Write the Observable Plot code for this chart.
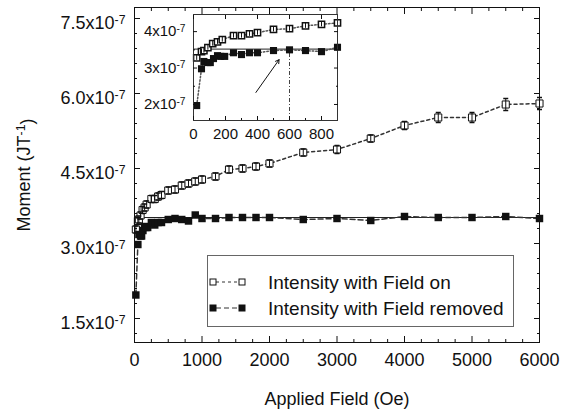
<!DOCTYPE html>
<html><head><meta charset="utf-8">
<script src="https://cdn.jsdelivr.net/npm/d3@7"></script>
<script src="https://cdn.jsdelivr.net/npm/@observablehq/plot@0.6"></script>
<style>
body{margin:0;background:#fff;}
#wrap{position:relative;width:571px;height:419px;font-family:"Liberation Sans",Arial,Helvetica,sans-serif;color:#111;}
#inset{position:absolute;left:140px;top:0px;}
#legend{position:absolute;left:207px;top:255px;}
</style></head><body><div id="wrap"><div id="main"></div><div id="inset"></div><div id="legend"></div></div>
<script>
// ---- data (moment in units of 1e-7 J/T, field in Oe) ----
const onField = [20, 50, 65, 90, 120, 150, 180, 250, 300, 350, 400, 500, 600, 700, 800, 900, 1000, 1200, 1400, 1600, 1800, 2000, 2500, 3000, 3500, 4000, 4500, 5000, 5500, 6000];
const onMoment = [3.28, 3.45, 3.48, 3.56, 3.67, 3.72, 3.78, 3.89, 3.89, 3.94, 3.97, 4.06, 4.08, 4.16, 4.20, 4.24, 4.28, 4.34, 4.48, 4.50, 4.54, 4.60, 4.82, 4.88, 5.10, 5.36, 5.52, 5.52, 5.78, 5.80];
const onError = [0.07, 0.07, 0.07, 0.07, 0.07, 0.07, 0.07, 0.07, 0.07, 0.07, 0.07, 0.07, 0.07, 0.07, 0.07, 0.07, 0.07, 0.07, 0.07, 0.07, 0.07, 0.07, 0.07, 0.08, 0.07, 0.08, 0.10, 0.10, 0.12, 0.12];
const removedField = [20, 50, 65, 90, 105, 125, 150, 170, 195, 250, 300, 350, 400, 500, 600, 700, 800, 900, 1000, 1200, 1400, 1600, 1800, 2000, 2500, 3000, 3500, 4000, 4500, 5000, 5500, 6000];
const removedMoment = [1.97, 2.98, 3.18, 3.15, 3.15, 3.26, 3.34, 3.32, 3.32, 3.42, 3.37, 3.42, 3.42, 3.48, 3.50, 3.48, 3.45, 3.57, 3.50, 3.50, 3.52, 3.52, 3.52, 3.52, 3.48, 3.50, 3.46, 3.54, 3.52, 3.52, 3.54, 3.50];
const referenceLevel = [3.52];
const xTicks = [0, 1000, 2000, 3000, 4000, 5000, 6000];
const yTicks = [1.5, 3.0, 4.5, 6.0, 7.5];
const xDomain = [0, 6000];
const yDomain = [1.02, 7.72];
const insetXTicks = [0, 200, 400, 600, 800];
const insetYTicks = [2, 3, 4];
const insetXDomain = [0, 900];
const insetYDomain = [1.56, 4.47];
const insetMarker = [600];
const arrowFrom = [390, 2.33];
const arrowTo = [535, 3.23];
const legendLabels = ["Intensity with Field on", "Intensity with Field removed"];

const FONT = '"Liberation Sans", Arial, Helvetica, sans-serif';
const onData = onField.map((f, i) => ({field: f, m: onMoment[i], e: onError[i]}));
const removedData = removedField.map((f, i) => ({field: f, m: removedMoment[i]}));
const cap = {draw(ctx, size) { const w = Math.sqrt(size / Math.PI); ctx.moveTo(-w, 0); ctx.lineTo(w, 0); }};
const sup = d => `x10^{-7}`;

function supify(svg) {
  d3.select(svg).selectAll("text").each(function() {
    const t = this.textContent;
    if (!t.includes("^{")) return;
    const parts = t.split(/\^\{([^}]*)\}/);
    const el = d3.select(this);
    el.text(null);
    parts.forEach((p, i) => {
      if (!p) return;
      if (i % 2 === 1) {
        el.append("tspan").attr("dy", "-0.45em").attr("font-size", "0.68em").text(p);
        if (i + 1 < parts.length && parts[i + 1]) el.append("tspan").attr("dy", "0.45em").text(parts[i + 1]);
      } else if (i === 0) {
        el.append("tspan").text(p);
      }
    });
  });
}

// minor tick positions (derived from the tick arrays)
const xMinor = d3.range(xDomain[0], xDomain[1] + 1, 250).filter(v => v % 1000 !== 0);
const yMinor = d3.range(12, 76, 3).map(v => v / 10).filter(v => Math.abs(v / 1.5 - Math.round(v / 1.5)) > 1e-6);
const insetXMinor = d3.range(100, 900, 200);
const insetYMinor = [2.5, 3.5];

const mainSvg = Plot.plot({
  width: 571, height: 419,
  marginLeft: 134, marginRight: 32, marginTop: 7, marginBottom: 77,
  x: {domain: xDomain}, y: {domain: yDomain},
  style: {fontSize: "18px", fontFamily: FONT, color: "#111", background: "transparent", overflow: "visible"},
  marks: [
    Plot.ruleY(referenceLevel, {stroke: "#222", strokeWidth: 1}),
    Plot.line(removedData, {x: "field", y: "m", stroke: "#333", strokeDasharray: "5,3"}),
    Plot.line(onData, {x: "field", y: "m", stroke: "#333", strokeDasharray: "3,3"}),
    Plot.dot(onData, {x: "field", y: "m", symbol: "square", r: 4, fill: "white", stroke: "#111", strokeWidth: 1}),
    Plot.ruleX(onData, {x: "field", y1: d => d.m - d.e, y2: d => d.m + d.e, stroke: "#111"}),
    Plot.dot(onData, {x: "field", y: d => d.m - d.e, symbol: cap, r: 2.5, stroke: "#111"}),
    Plot.dot(onData, {x: "field", y: d => d.m + d.e, symbol: cap, r: 2.5, stroke: "#111"}),
    Plot.dot(removedData, {x: "field", y: "m", symbol: "square", r: 4.2, fill: "#111", stroke: "none"}),
    Plot.frame({stroke: "#111"}),
    Plot.axisX({ticks: xMinor, tickSize: -3, tickFormat: () => "", label: null}),
    Plot.axisX({ticks: xTicks, tickSize: -6, tickPadding: 17, tickFormat: d => String(d),
      label: "Applied Field (Oe)", labelAnchor: "center", labelOffset: 62, labelArrow: "none"}),
    Plot.axisX({anchor: "top", ticks: xMinor, tickSize: -3, tickFormat: () => "", label: null}),
    Plot.axisX({anchor: "top", ticks: xTicks, tickSize: -6, tickFormat: () => "", label: null}),
    Plot.axisY({ticks: yMinor, tickSize: -3, tickFormat: () => "", label: null}),
    Plot.axisY({ticks: yTicks, tickSize: -6, tickFormat: () => "", label: null}),
    Plot.axisY({ticks: yTicks, tickSize: 0, tickPadding: 9, dy: 5, tickFormat: d => d.toFixed(1) + sup(d),
      label: "Moment (JT^{-1})", labelAnchor: "center", labelOffset: 117, labelArrow: "none"}),
    Plot.axisY({anchor: "right", ticks: yMinor, tickSize: -3, tickFormat: () => "", label: null}),
    Plot.axisY({anchor: "right", ticks: yTicks, tickSize: -6, tickFormat: () => "", label: null})
  ]
});
supify(mainSvg);
document.getElementById("main").append(mainSvg);

const inOn = onData.filter(d => d.field <= insetXDomain[1]);
const inRem = removedData.filter(d => d.field <= insetXDomain[1]);
const insetSvg = Plot.plot({
  width: 205, height: 150,
  marginLeft: 53, marginRight: 8, marginTop: 14, marginBottom: 30,
  x: {domain: insetXDomain}, y: {domain: insetYDomain},
  style: {fontSize: "15px", fontFamily: FONT, color: "#111", background: "transparent", overflow: "visible"},
  marks: [
    Plot.ruleY(referenceLevel, {stroke: "#222"}),
    Plot.ruleX(insetMarker, {y1: insetYDomain[0], y2: referenceLevel[0], stroke: "#444", strokeDasharray: "4,2,1,2"}),
    Plot.line(inRem, {x: "field", y: "m", stroke: "#555", strokeDasharray: "1.5,2"}),
    Plot.line(inOn, {x: "field", y: "m", stroke: "#555", strokeDasharray: "1.5,2"}),
    Plot.dot(inOn, {x: "field", y: "m", symbol: "square", r: 3.5, fill: "white", stroke: "#111"}),
    Plot.ruleX(inOn, {x: "field", y1: d => d.m - d.e, y2: d => d.m + d.e, stroke: "#111"}),
    Plot.dot(inRem, {x: "field", y: "m", symbol: "square", r: 4, fill: "#111", stroke: "none"}),
    Plot.arrow([0], {x1: () => arrowFrom[0], y1: () => arrowFrom[1], x2: () => arrowTo[0], y2: () => arrowTo[1], stroke: "#111", headLength: 6, strokeWidth: 1}),
    Plot.frame({stroke: "#333"}),
    Plot.axisX({ticks: insetXMinor, tickSize: -2, tickFormat: () => "", label: null}),
    Plot.axisX({ticks: insetXTicks, tickSize: -4, tickPadding: 12, tickFormat: d => String(d), label: null}),
    Plot.axisX({anchor: "top", ticks: insetXTicks, tickSize: -4, tickFormat: () => "", label: null}),
    Plot.axisY({ticks: insetYMinor, tickSize: -2, tickFormat: () => "", label: null}),
    Plot.axisY({ticks: insetYTicks, tickSize: -4, tickPadding: 12, tickFormat: d => d + "x10^{-7}", label: null}),
    Plot.axisY({anchor: "right", ticks: insetYTicks, tickSize: -4, tickFormat: () => "", label: null}),
    Plot.axisY({anchor: "right", ticks: insetYMinor, tickSize: -2, tickFormat: () => "", label: null})
  ]
});
supify(insetSvg);
document.getElementById("inset").append(insetSvg);

// legend
const lg = d3.select("#legend").append("svg").attr("width", 308).attr("height", 73)
  .style("font-family", FONT).style("font-size", "19px");
lg.append("rect").attr("x", 0.5).attr("y", 0.5).attr("width", 306).attr("height", 71).attr("fill", "white").attr("stroke", "#666");
const rows = [27, 53];
lg.append("line").attr("x1", 9).attr("x2", 32).attr("y1", rows[0]).attr("y2", rows[0]).attr("stroke", "#333").attr("stroke-dasharray", "3,3");
[6, 35].forEach(x => lg.append("rect").attr("x", x - 3).attr("y", rows[0] - 3).attr("width", 6).attr("height", 6).attr("fill", "white").attr("stroke", "#111"));
lg.append("text").attr("x", 61).attr("y", rows[0]).attr("dy", "0.35em").attr("fill", "#111").text(legendLabels[0]);
lg.append("line").attr("x1", 9).attr("x2", 32).attr("y1", rows[1]).attr("y2", rows[1]).attr("stroke", "#333").attr("stroke-dasharray", "5,3");
[6, 35].forEach(x => lg.append("rect").attr("x", x - 3.5).attr("y", rows[1] - 3.5).attr("width", 7).attr("height", 7).attr("fill", "#111"));
lg.append("text").attr("x", 61).attr("y", rows[1]).attr("dy", "0.35em").attr("fill", "#111").text(legendLabels[1]);
</script></body></html>
